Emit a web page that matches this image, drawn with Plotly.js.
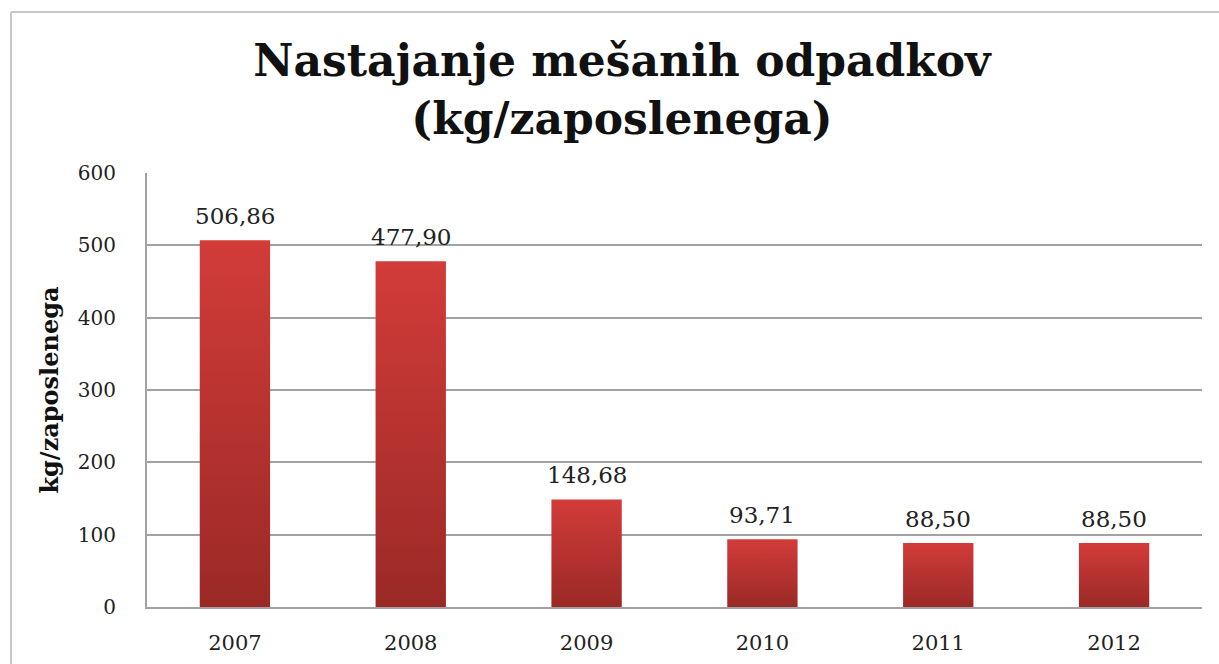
<!DOCTYPE html>
<html>
<head>
<meta charset="utf-8">
<script src="https://cdn.plot.ly/plotly-3.0.1.min.js"></script>
<style>
html,body{margin:0;padding:0;background:#fff;}
#chart{width:1219px;height:664px;}
</style>
</head>
<body>
<div id="chart"></div>
<script>
const years = ["2007", "2008", "2009", "2010", "2011", "2012"];
const values = [506.86, 477.90, 148.68, 93.71, 88.50, 88.50];
const valueLabels = ["506,86", "477,90", "148,68", "93,71", "88,50", "88,50"];
const yTicks = [0, 100, 200, 300, 400, 500, 600];

const W = 1219, H = 664;
const M = {l: 147, r: 17, t: 173, b: 57};
const pw = W - M.l - M.r, ph = H - M.t - M.b;
const px = v => (v - M.l) / pw;
const py = v => (H - M.b - v) / ph;
const SERIF = 'DejaVu Serif, serif';

const trace = {
  type: 'bar',
  x: years,
  y: values,
  marker: {color: '#b8332f', line: {width: 0}},
  hoverinfo: 'none'
};

const labels = years.map((yr, i) => ({
  x: i, y: values[i], xref: 'x', yref: 'y',
  text: valueLabels[i], showarrow: false,
  xanchor: 'center', yanchor: 'bottom', yshift: 9,
  font: {family: SERIF, size: 23, color: '#222'}
}));

const layout = {
  width: W, height: H,
  margin: M,
  paper_bgcolor: '#fff',
  plot_bgcolor: '#fff',
  showlegend: false,
  bargap: 0.6,
  font: {family: SERIF, color: '#222'},
  title: {
    text: 'Nastajanje mešanih odpadkov<br>(kg/zaposlenega)',
    font: {family: SERIF, size: 44, color: '#111', weight: 'bold'},
    x: 622 / W, xanchor: 'center', xref: 'container',
    y: 0.885, yanchor: 'middle', yref: 'container'
  },
  xaxis: {
    type: 'category',
    range: [-0.5, years.length - 0.5],
    tickfont: {family: SERIF, size: 21, color: '#222'},
    showgrid: false,
    showline: true, linecolor: '#a2a2a2', linewidth: 2,
    ticks: '', ticklabelstandoff: 16,
    fixedrange: true
  },
  yaxis: {
    range: [0, 600],
    tickvals: yTicks,
    tickfont: {family: SERIF, size: 20, color: '#222'},
    showgrid: true, gridcolor: '#a2a2a2', gridwidth: 2,
    showline: true, linecolor: '#a2a2a2', linewidth: 2,
    zeroline: false,
    ticks: '', ticklabelstandoff: 25,
    title: {
      text: '<b>kg/zaposlenega</b>',
      font: {family: SERIF, size: 24, color: '#111'},
      standoff: 12
    },
    fixedrange: true
  },
  annotations: labels,
  shapes: [
    {type: 'line', xref: 'paper', yref: 'paper', x0: px(11), x1: px(11), y0: py(12), y1: py(H + 5), line: {color: '#c8c8c8', width: 2}},
    {type: 'line', xref: 'paper', yref: 'paper', x0: px(11), x1: px(W + 5), y0: py(12), y1: py(12), line: {color: '#c8c8c8', width: 2}}
  ]
};

Plotly.newPlot('chart', [trace], layout, {displayModeBar: false, staticPlot: true}).then(gd => {
  const svg = gd.querySelector('svg.main-svg');
  const ns = 'http://www.w3.org/2000/svg';
  let defs = svg.querySelector('defs');
  const grad = document.createElementNS(ns, 'linearGradient');
  grad.setAttribute('id', 'barGrad');
  grad.setAttribute('x1', '0'); grad.setAttribute('y1', '0');
  grad.setAttribute('x2', '0'); grad.setAttribute('y2', '1');
  [['0', '#d23c39'], ['1', '#9a2926']].forEach(([o, c]) => {
    const s = document.createElementNS(ns, 'stop');
    s.setAttribute('offset', o); s.setAttribute('stop-color', c);
    grad.appendChild(s);
  });
  defs.appendChild(grad);
  gd.querySelectorAll('.barlayer .point path').forEach(p => {
    p.style.fill = 'url(#barGrad)';
  });
});
</script>
</body>
</html>
